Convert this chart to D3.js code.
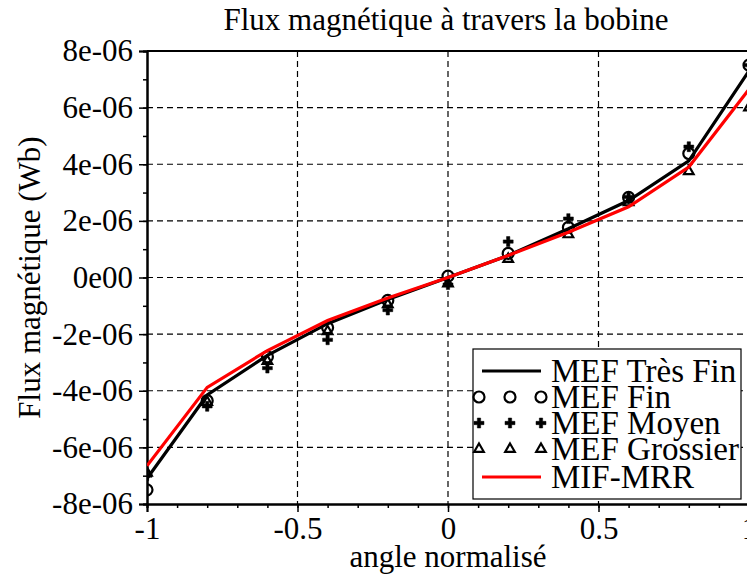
<!DOCTYPE html>
<html><head><meta charset="utf-8">
<script src="https://cdn.jsdelivr.net/npm/d3@7"></script>
<style>body{margin:0;background:#fff}svg{display:block}text{font-family:"Liberation Serif","Times New Roman",serif;fill:#000}</style>
</head><body><svg id="c" width="747" height="576"></svg>
<script>
const angles = [-1,-0.8,-0.6,-0.4,-0.2,0,0.2,0.4,0.6,0.8,1];
const mefTresFin = [-7.1e-6,-4.15e-6,-2.75e-6,-1.63e-6,-0.78e-6,0,0.78e-6,1.72e-6,2.72e-6,4.12e-6,7.3e-6];
const mefFin = [-7.5e-6,-4.35e-6,-2.8e-6,-1.77e-6,-0.81e-6,0.05e-6,0.85e-6,1.77e-6,2.83e-6,4.38e-6,7.5e-6];
const mefMoyen = [-7.0e-6,-4.55e-6,-3.2e-6,-2.2e-6,-1.15e-6,-0.25e-6,1.27e-6,2.08e-6,2.85e-6,4.62e-6,7.5e-6];
const mefGrossier = [-6.9e-6,-4.4e-6,-2.95e-6,-1.9e-6,-0.95e-6,-0.22e-6,0.65e-6,1.52e-6,2.65e-6,3.75e-6,6.0e-6];
const mifMrr = [-6.65e-6,-3.88e-6,-2.58e-6,-1.52e-6,-0.72e-6,0,0.78e-6,1.6e-6,2.5e-6,3.9e-6,6.65e-6];
const xTicks = [-1,-0.5,0,0.5,1];
const xTickLabels = ["-1","-0.5","0","0.5","1"];
const yTicks = [-8e-6,-6e-6,-4e-6,-2e-6,0,2e-6,4e-6,6e-6,8e-6];
const yTickLabels = ["-8e-06","-6e-06","-4e-06","-2e-06","0e00","2e-06","4e-06","6e-06","8e-06"];
const legendLabels = ["MEF Très Fin","MEF Fin","MEF Moyen","MEF Grossier","MIF-MRR"];

const svg = d3.select("#c");
const L=147,R=749,T=51,B=504;
const x = d3.scaleLinear().domain([-1,1]).range([L,R]);
const y = d3.scaleLinear().domain([-8e-6,8e-6]).range([B,T]);

svg.append("defs").append("clipPath").attr("id","clip").append("rect")
  .attr("x",L).attr("y",T).attr("width",R-L).attr("height",B-T);

// grid
const g = svg.append("g").attr("stroke","#000").attr("stroke-width",1.2).attr("stroke-dasharray","6,4");
xTicks.filter(v=>v>-1&&v<1).forEach(v=>g.append("line").attr("x1",x(v)).attr("x2",x(v)).attr("y1",T).attr("y2",B));
yTicks.filter(v=>v>-8e-6&&v<8e-6).forEach(v=>g.append("line").attr("x1",L).attr("x2",R).attr("y1",y(v)).attr("y2",y(v)));
// top border
svg.append("line").attr("x1",L).attr("x2",R).attr("y1",T).attr("y2",T).attr("stroke","#000").attr("stroke-width",2);

// axes
const xAxis = d3.axisBottom(x).tickValues(xTicks).tickFormat((d,i)=>xTickLabels[i]).tickSize(8).tickPadding(5);
const xMinor = d3.axisBottom(x).tickValues(d3.range(-10,11).map(i=>i/10)).tickFormat("").tickSize(4);
const yAxis = d3.axisLeft(y).tickValues(yTicks).tickFormat((d,i)=>yTickLabels[i]).tickSize(8).tickPadding(6);
const yMinor = d3.axisLeft(y).tickValues(d3.range(-8,9).map(i=>i*1e-6)).tickFormat("").tickSize(4);
function style(sel){sel.attr("font-family",null).attr("font-size",null);sel.select(".domain").attr("stroke","#000").attr("stroke-width",2);sel.selectAll("line").attr("stroke","#000").attr("stroke-width",1.5);sel.selectAll("text").attr("font-size",31).attr("fill","#000");}
svg.append("g").attr("transform",`translate(0,${B})`).call(xMinor).call(style);
svg.append("g").attr("transform",`translate(0,${B})`).call(xAxis).call(style);
svg.append("g").attr("transform",`translate(${L},0)`).call(yMinor).call(style);
svg.append("g").attr("transform",`translate(${L},0)`).call(yAxis).call(style);

// data
const plot = svg.append("g").attr("clip-path","url(#clip)");
const line = d3.line().x(d=>x(d[0])).y(d=>y(d[1]));
const zip = arr => angles.map((a,i)=>[a,arr[i]]);
const circ = d3.symbol().type(d3.symbolCircle).size(95);
const cross = d3.symbol().type(d3.symbolCross).size(55);
const tri = d3.symbol().type(d3.symbolTriangle).size(40);
function markers(arr, sym, filled){
  plot.append("g").selectAll("path").data(zip(arr)).join("path")
    .attr("transform",d=>`translate(${x(d[0])},${y(d[1])})`).attr("d",sym)
    .attr("fill",filled?"#000":"none").attr("stroke","#000").attr("stroke-width",filled?0.5:2.2);
}
markers(mefGrossier,tri,false);
markers(mefMoyen,cross,true);
markers(mefFin,circ,false);
plot.append("path").datum(zip(mefTresFin)).attr("d",line).attr("fill","none").attr("stroke","#000").attr("stroke-width",3.2);
plot.append("path").datum(zip(mifMrr)).attr("d",line).attr("fill","none").attr("stroke","#ff0000").attr("stroke-width",3.2);

// labels
svg.append("text").attr("x",446).attr("y",30).attr("text-anchor","middle").attr("font-size",31).text("Flux magnétique à travers la bobine");
svg.append("text").attr("x",448).attr("y",567).attr("text-anchor","middle").attr("font-size",31).text("angle normalisé");
svg.append("text").attr("transform",`translate(40,${(T+B)/2}) rotate(-90)`).attr("text-anchor","middle").attr("font-size",31).text("Flux magnétique (Wb)");

// legend
const lg = svg.append("g");
lg.append("rect").attr("x",473).attr("y",349).attr("width",268).attr("height",150).attr("fill","#fff").attr("stroke","#000").attr("stroke-width",1.2);
const rowY = [371,397,423,449,477];
lg.append("line").attr("x1",482).attr("x2",541).attr("y1",rowY[0]).attr("y2",rowY[0]).attr("stroke","#000").attr("stroke-width",3.2);
lg.append("line").attr("x1",482).attr("x2",541).attr("y1",rowY[4]).attr("y2",rowY[4]).attr("stroke","#ff0000").attr("stroke-width",3.2);
const mx=[479,510,541];
[[circ,false,1],[cross,true,2],[tri,false,3]].forEach(([s,f,r])=>{
  mx.forEach(px=>lg.append("path").attr("transform",`translate(${px},${rowY[r]})`).attr("d",s)
    .attr("fill",f?"#000":"none").attr("stroke","#000").attr("stroke-width",f?0.5:2.2));
});
legendLabels.forEach((t,i)=>lg.append("text").attr("x",551).attr("y",rowY[i]+11).attr("font-size",33).text(t));
</script></body></html>
